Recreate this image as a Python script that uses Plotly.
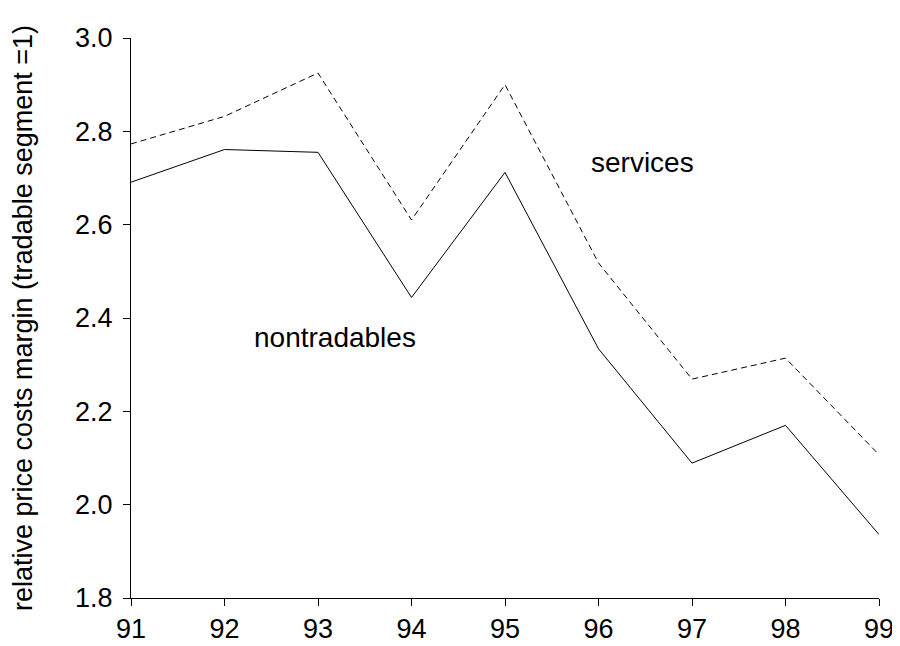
import plotly.graph_objects as go

years = [91, 92, 93, 94, 95, 96, 97, 98, 99]
services = [2.773, 2.832, 2.925, 2.61, 2.90, 2.518, 2.269, 2.314, 2.107]
nontradables = [2.691, 2.761, 2.755, 2.444, 2.712, 2.334, 2.089, 2.170, 1.936]
y_ticks = [1.8, 2.0, 2.2, 2.4, 2.6, 2.8, 3.0]

fig = go.Figure()
fig.add_trace(go.Scatter(x=years, y=services, mode="lines",
                         line=dict(color="black", width=1, dash="6px,4px"),
                         name="services", showlegend=False))
fig.add_trace(go.Scatter(x=years, y=nontradables, mode="lines",
                         line=dict(color="black", width=1),
                         name="nontradables", showlegend=False))

fig.add_annotation(x=96.47, y=2.733, text="services", showarrow=False,
                   font=dict(size=28, color="black"))
fig.add_annotation(x=93.18, y=2.358, text="nontradables", showarrow=False,
                   font=dict(size=28, color="black"))

fig.update_layout(
    width=892, height=638,
    paper_bgcolor="white", plot_bgcolor="white",
    margin=dict(l=123, r=21, t=30, b=48, autoexpand=False),
    font=dict(family="Liberation Sans, Arial, sans-serif", size=26, color="black"),
    xaxis=dict(range=[91, 99], tickvals=years, ticktext=[str(y) for y in years],
               showgrid=False, zeroline=False, showline=True, linecolor="black",
               linewidth=1, ticks="outside", ticklen=7, tickcolor="black",
               tickfont=dict(size=27), automargin=False),
    yaxis=dict(range=[1.8, 3.0], tickvals=y_ticks,
               ticktext=[f"{v:.1f}" for v in y_ticks],
               showgrid=False, zeroline=False, showline=True, linecolor="black",
               linewidth=1, ticks="outside", ticklen=7, tickcolor="black",
               tickfont=dict(size=27), automargin=False, ticklabelstandoff=5,
               title=dict(text="relative price costs margin (tradable segment =1)",
                          font=dict(size=27), standoff=44)),
)

fig.write_html("out.html")
